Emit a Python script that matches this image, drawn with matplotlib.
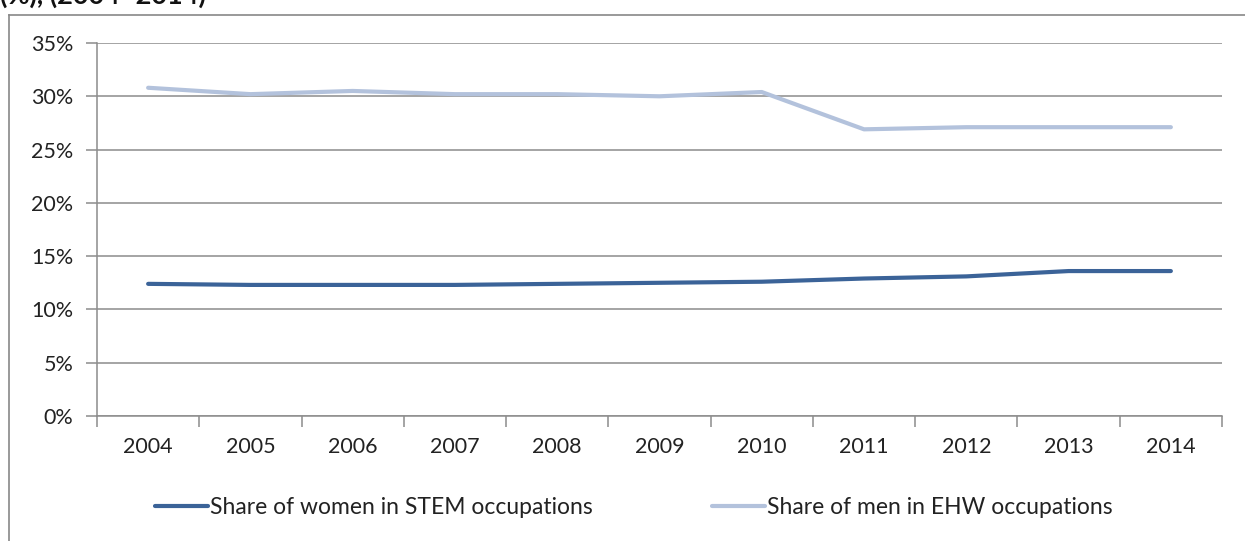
import matplotlib.pyplot as plt
from matplotlib.lines import Line2D
from matplotlib.ticker import FuncFormatter

years = ['2004', '2005', '2006', '2007', '2008', '2009', '2010', '2011', '2012', '2013', '2014']
women_stem = [12.4, 12.3, 12.3, 12.3, 12.4, 12.5, 12.6, 12.9, 13.1, 13.6, 13.6]
men_ehw = [30.8, 30.2, 30.5, 30.2, 30.2, 30.0, 30.4, 26.9, 27.1, 27.1, 27.1]
yticks = [0, 5, 10, 15, 20, 25, 30, 35]

plt.rcParams['font.family'] = ['Lato', 'DejaVu Sans']

fig = plt.figure(figsize=(12.45, 5.41), dpi=100)
ax = fig.add_axes([97 / 1245, 1 - 416 / 541, (1222 - 97) / 1245, (416 - 43) / 541])

x = list(range(len(years)))
ax.plot(x, women_stem, color='#3b6398', linewidth=3, solid_capstyle='round',
        label='Share of women in STEM occupations')
ax.plot(x, men_ehw, color='#b3c2dc', linewidth=3, solid_capstyle='round',
        label='Share of men in EHW occupations')

ax.set_xlim(-0.5, len(years) - 0.5)
ax.set_ylim(0, 35)
ax.set_yticks(yticks)
ax.yaxis.set_major_formatter(FuncFormatter(lambda v, p: f'{v:.0f}%'))
ax.set_xticks(x)
ax.set_xticklabels(years)
ax.set_xticks([i - 0.5 for i in range(len(years) + 1)], minor=True)

# gridlines and axis styling like the Excel original
ax.grid(axis='y', color='#8c8c8c', linewidth=1.1)
ax.set_axisbelow(True)
for s in ['top', 'right']:
    ax.spines[s].set_visible(False)
ax.spines['left'].set_color('#8c8c8c')
ax.spines['bottom'].set_color('#8c8c8c')
ax.spines['left'].set_linewidth(1.1)
ax.spines['bottom'].set_linewidth(1.1)
ax.tick_params(axis='x', which='major', length=0, pad=15, labelsize=15.5, colors='#222222')
ax.tick_params(axis='x', which='minor', length=8, color='#8c8c8c', width=1.1)
ax.tick_params(axis='y', length=8, color='#8c8c8c', width=1.1, pad=9, labelsize=15.5,
               labelcolor='#222222')

fig.legend(loc='center', bbox_to_anchor=(634 / 1245, 1 - 508 / 541), ncol=2, frameon=False,
           fontsize=16.5, handlelength=2.3, handletextpad=0.1, columnspacing=5.2,
           labelcolor='#222222')

# outer chart frame (cut off at the right and bottom)
fig.add_artist(Line2D([9 / 1245, 1], [1 - 15 / 541, 1 - 15 / 541], color='#888888', linewidth=1.2))
fig.add_artist(Line2D([9 / 1245, 9 / 1245], [0, 1 - 15 / 541], color='#888888', linewidth=1.2))

# title partly cropped at the top edge, as in the source image
fig.text(0.0, 1 - 4 / 541, '(%), (2004\u20132014)', fontsize=19.5, fontweight='bold',
         va='baseline', ha='left', color='#111111')

fig.savefig('out.png', dpi=100)
